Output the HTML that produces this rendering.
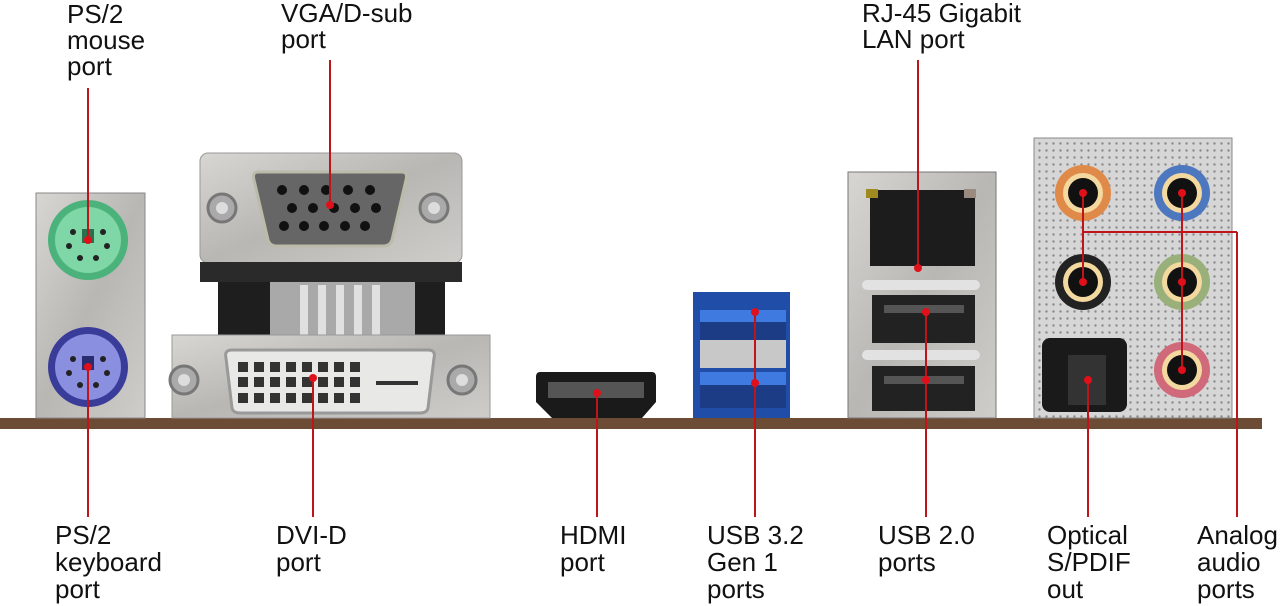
<!DOCTYPE html>
<html><head><meta charset="utf-8"><style>
html,body{margin:0;padding:0;background:#fff;}
svg{display:block;}
text{font-family:"Liberation Sans",Arial,sans-serif;font-size:26px;fill:#111;}
</style></head><body>
<svg width="1280" height="606" viewBox="0 0 1280 606" xmlns="http://www.w3.org/2000/svg">
<defs>
<linearGradient id="metal" x1="0" y1="0" x2="1" y2="1">
<stop offset="0" stop-color="#d8d6d2"/><stop offset="0.5" stop-color="#b9b7b3"/><stop offset="1" stop-color="#cfcdca"/>
</linearGradient>
<pattern id="dots" width="7" height="7" patternUnits="userSpaceOnUse">
<rect width="7" height="7" fill="#d6d6d6"/><circle cx="3.5" cy="3.5" r="1.2" fill="#8a8a8a"/>
</pattern>
</defs>

<rect x="0" y="418" width="1262" height="11" fill="#6d4c36"/>

<rect x="36" y="193" width="109" height="225" fill="url(#metal)" stroke="#888"/>
<circle cx="88" cy="240" r="40" fill="#4cb27c"/><circle cx="88" cy="240" r="33" fill="#7fd6a6"/>
<circle cx="88" cy="367" r="40" fill="#3a3c9a"/><circle cx="88" cy="367" r="33" fill="#8a8fe0"/>
<g fill="#222"><circle cx="73" cy="232" r="3"/><circle cx="103" cy="232" r="3"/><circle cx="69" cy="246" r="3"/><circle cx="107" cy="246" r="3"/><circle cx="80" cy="258" r="3"/><circle cx="96" cy="258" r="3"/>
<circle cx="73" cy="359" r="3"/><circle cx="103" cy="359" r="3"/><circle cx="69" cy="373" r="3"/><circle cx="107" cy="373" r="3"/><circle cx="80" cy="385" r="3"/><circle cx="96" cy="385" r="3"/></g>
<rect x="82" y="229" width="12" height="14" fill="#2d6e4b"/><rect x="82" y="356" width="12" height="14" fill="#2a2c70"/>

<rect x="200" y="153" width="262" height="110" rx="8" fill="url(#metal)" stroke="#999"/>
<rect x="200" y="262" width="262" height="20" fill="#2a2a2a"/>
<rect x="218" y="282" width="227" height="55" fill="#1e1e1e"/>
<rect x="270" y="282" width="145" height="55" fill="#a9a9a9"/>
<g fill="#e0e0e0"><rect x="300" y="285" width="8" height="50"/><rect x="318" y="285" width="8" height="50"/><rect x="336" y="285" width="8" height="50"/><rect x="354" y="285" width="8" height="50"/><rect x="372" y="285" width="8" height="50"/></g>
<path d="M258 172 H402 Q408 172 406 180 L392 240 Q390 246 384 246 H276 Q270 246 268 240 L254 180 Q252 172 258 172Z" fill="#666" stroke="#bba" stroke-width="3"/>
<g fill="#111"><circle cx="282" cy="190" r="5"/><circle cx="304" cy="190" r="5"/><circle cx="326" cy="190" r="5"/><circle cx="348" cy="190" r="5"/><circle cx="370" cy="190" r="5"/>
<circle cx="292" cy="208" r="5"/><circle cx="313" cy="208" r="5"/><circle cx="334" cy="208" r="5"/><circle cx="355" cy="208" r="5"/><circle cx="376" cy="208" r="5"/>
<circle cx="284" cy="226" r="5"/><circle cx="304" cy="226" r="5"/><circle cx="324" cy="226" r="5"/><circle cx="345" cy="226" r="5"/><circle cx="365" cy="226" r="5"/></g>
<circle cx="222" cy="208" r="14" fill="#aaa" stroke="#777" stroke-width="3"/><circle cx="222" cy="208" r="6" fill="#ddd"/>
<circle cx="434" cy="208" r="14" fill="#aaa" stroke="#777" stroke-width="3"/><circle cx="434" cy="208" r="6" fill="#ddd"/>

<rect x="172" y="335" width="318" height="83" fill="url(#metal)" stroke="#999"/>
<path d="M232 350 H428 Q436 350 434 358 L428 408 Q427 413 420 413 H240 Q233 413 232 408 L226 358 Q224 350 232 350Z" fill="#e8e8e6" stroke="#999" stroke-width="3"/>
<g fill="#333">
<rect x="238" y="362" width="10" height="10"/><rect x="254" y="362" width="10" height="10"/><rect x="270" y="362" width="10" height="10"/><rect x="286" y="362" width="10" height="10"/><rect x="302" y="362" width="10" height="10"/><rect x="318" y="362" width="10" height="10"/><rect x="334" y="362" width="10" height="10"/><rect x="350" y="362" width="10" height="10"/>
<rect x="238" y="377" width="10" height="10"/><rect x="254" y="377" width="10" height="10"/><rect x="270" y="377" width="10" height="10"/><rect x="286" y="377" width="10" height="10"/><rect x="302" y="377" width="10" height="10"/><rect x="318" y="377" width="10" height="10"/><rect x="334" y="377" width="10" height="10"/><rect x="350" y="377" width="10" height="10"/>
<rect x="238" y="393" width="10" height="10"/><rect x="254" y="393" width="10" height="10"/><rect x="270" y="393" width="10" height="10"/><rect x="286" y="393" width="10" height="10"/><rect x="302" y="393" width="10" height="10"/><rect x="318" y="393" width="10" height="10"/><rect x="334" y="393" width="10" height="10"/><rect x="350" y="393" width="10" height="10"/>
<rect x="376" y="381" width="42" height="4"/></g>
<circle cx="184" cy="380" r="14" fill="#aaa" stroke="#777" stroke-width="3"/><circle cx="184" cy="380" r="6" fill="#ddd"/>
<circle cx="462" cy="380" r="14" fill="#aaa" stroke="#777" stroke-width="3"/><circle cx="462" cy="380" r="6" fill="#ddd"/>

<path d="M540 372 H652 Q656 372 656 377 V402 L642 418 H552 L536 402 V377 Q536 372 540 372Z" fill="#1a1a1a"/>
<rect x="548" y="382" width="96" height="16" fill="#555"/>

<rect x="693" y="292" width="97" height="126" fill="#1f4da8"/>
<rect x="700" y="310" width="86" height="30" fill="#1c3c86"/><rect x="700" y="310" width="86" height="12" fill="#3f7ae0"/>
<rect x="700" y="340" width="86" height="28" fill="#c8c8c8"/>
<rect x="700" y="372" width="86" height="36" fill="#1c3c86"/><rect x="700" y="372" width="86" height="13" fill="#3f7ae0"/>

<rect x="848" y="172" width="148" height="246" fill="url(#metal)" stroke="#777"/>
<rect x="870" y="190" width="105" height="76" fill="#1c1c1c"/>
<rect x="866" y="189" width="12" height="9" fill="#a08a20"/><rect x="964" y="189" width="12" height="9" fill="#9a8a80"/>
<rect x="862" y="280" width="118" height="10" rx="5" fill="#e2e2e2"/>
<rect x="872" y="295" width="103" height="48" fill="#222"/><rect x="884" y="305" width="80" height="8" fill="#555"/>
<rect x="862" y="350" width="118" height="10" rx="5" fill="#e2e2e2"/>
<rect x="872" y="366" width="103" height="45" fill="#222"/><rect x="884" y="376" width="80" height="8" fill="#555"/>

<rect x="1034" y="138" width="198" height="280" fill="url(#dots)" stroke="#888"/>
<g>
<circle cx="1083" cy="193" r="28" fill="#e08a4a"/><circle cx="1083" cy="193" r="20" fill="#f3d9a0"/><circle cx="1083" cy="193" r="15" fill="#111"/>
<circle cx="1182" cy="193" r="28" fill="#4d78c0"/><circle cx="1182" cy="193" r="20" fill="#f3d9a0"/><circle cx="1182" cy="193" r="15" fill="#111"/>
<circle cx="1083" cy="282" r="28" fill="#222"/><circle cx="1083" cy="282" r="20" fill="#f3d9a0"/><circle cx="1083" cy="282" r="15" fill="#111"/>
<circle cx="1182" cy="282" r="28" fill="#9ab07a"/><circle cx="1182" cy="282" r="20" fill="#f3d9a0"/><circle cx="1182" cy="282" r="15" fill="#111"/>
<circle cx="1182" cy="370" r="28" fill="#d06a7a"/><circle cx="1182" cy="370" r="20" fill="#f3d9a0"/><circle cx="1182" cy="370" r="15" fill="#111"/>
<rect x="1042" y="338" width="85" height="74" rx="8" fill="#1a1a1a"/><rect x="1068" y="355" width="38" height="50" fill="#333"/>
</g>

<g stroke="#c0141c" stroke-width="2" fill="none">
<line x1="88" y1="88" x2="88" y2="240"/>
<line x1="330" y1="60" x2="330" y2="205"/>
<line x1="918" y1="60" x2="918" y2="268"/>
<line x1="88" y1="367" x2="88" y2="517"/>
<line x1="313" y1="378" x2="313" y2="517"/>
<line x1="597" y1="393" x2="597" y2="517"/>
<line x1="755" y1="312" x2="755" y2="517"/>
<line x1="926" y1="312" x2="926" y2="517"/>
<line x1="1088" y1="380" x2="1088" y2="517"/>
<line x1="1237" y1="232" x2="1237" y2="517"/>
<line x1="1083" y1="232" x2="1237" y2="232"/>
<line x1="1083" y1="193" x2="1083" y2="282"/>
<line x1="1182" y1="193" x2="1182" y2="370"/>
</g>
<g fill="#e0101a">
<circle cx="88" cy="240" r="4"/><circle cx="330" cy="205" r="4"/><circle cx="918" cy="268" r="4"/>
<circle cx="88" cy="367" r="4"/><circle cx="313" cy="378" r="4"/><circle cx="597" cy="393" r="4"/>
<circle cx="755" cy="312" r="4"/><circle cx="755" cy="383" r="4"/><circle cx="926" cy="312" r="4"/><circle cx="926" cy="380" r="4"/>
<circle cx="1088" cy="380" r="4"/><circle cx="1083" cy="193" r="4"/><circle cx="1083" cy="282" r="4"/><circle cx="1182" cy="193" r="4"/><circle cx="1182" cy="282" r="4"/><circle cx="1182" cy="370" r="4"/>
</g>

<text x="67" y="23">PS/2</text><text x="67" y="49">mouse</text><text x="67" y="75">port</text>
<text x="281" y="22">VGA/D-sub</text><text x="281" y="48">port</text>
<text x="862" y="22">RJ-45 Gigabit</text><text x="862" y="48">LAN port</text>
<text x="55" y="544">PS/2</text><text x="55" y="571">keyboard</text><text x="55" y="598">port</text>
<text x="276" y="544">DVI-D</text><text x="276" y="571">port</text>
<text x="560" y="544">HDMI</text><text x="560" y="571">port</text>
<text x="707" y="544">USB 3.2</text><text x="707" y="571">Gen 1</text><text x="707" y="598">ports</text>
<text x="878" y="544">USB 2.0</text><text x="878" y="571">ports</text>
<text x="1047" y="544">Optical</text><text x="1047" y="571">S/PDIF</text><text x="1047" y="598">out</text>
<text x="1197" y="544">Analog</text><text x="1197" y="571">audio</text><text x="1197" y="598">ports</text>
</svg>
</body></html>
